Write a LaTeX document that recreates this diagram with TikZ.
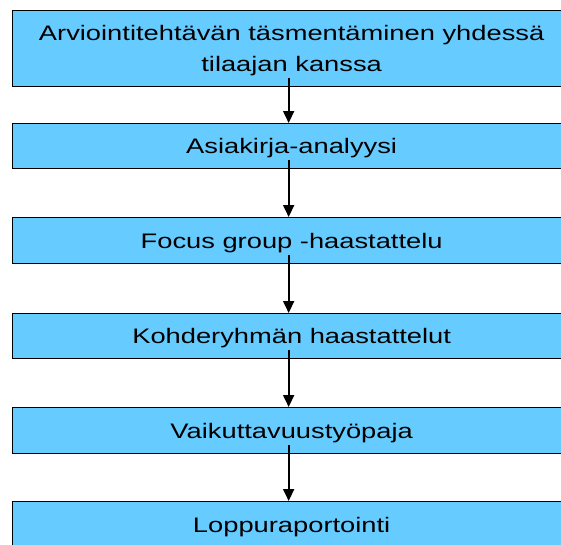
\documentclass[tikz,border=0pt]{standalone}
\usepackage{fontspec}
\setmainfont{Liberation Sans}
\newfontfamily\boxfont[FakeStretch=1.3]{Liberation Sans}
\usetikzlibrary{arrows.meta,calc}
\definecolor{boxblue}{HTML}{66CCFF}
\begin{document}
\begin{tikzpicture}[x=1pt,y=-1pt,
  stepbox/.style={draw=black, line width=1.3pt, fill=boxblue, minimum width=558pt,
    inner sep=0pt, text height=15pt, text depth=0pt,
    font=\boxfont\fontsize{21}{31}\selectfont, align=center, anchor=north west},
  conn/.style={line width=1.8pt, -{Triangle[width=11pt,length=12pt]}}]
\useasboundingbox (0,0) rectangle (561,544);
\clip (0,0) rectangle (561,544);
\node[stepbox, minimum height=76pt, text height=46pt] (n1) at (12,10)
  {Arviointitehtävän täsmentäminen yhdessä\\tilaajan kanssa};
\node[stepbox, minimum height=45pt] (n2) at (12,123) {Asiakirja-analyysi};
\node[stepbox, minimum height=46pt] (n3) at (12,217) {Focus group -haastattelu};
\node[stepbox, minimum height=45pt] (n4) at (12,313) {Kohderyhmän haastattelut};
\node[stepbox, minimum height=46pt] (n5) at (12,407) {Vaikuttavuustyöpaja};
\node[stepbox, minimum height=46pt] (n6) at (12,501) {Loppuraportointi};
\foreach \a/\b in {n1/n2,n2/n3,n3/n4,n4/n5,n5/n6}
  \draw[conn] ($(\a.south)+(-3pt,9pt)$) -- ($(\b.north)+(-3pt,0pt)$);
\end{tikzpicture}
\end{document}
